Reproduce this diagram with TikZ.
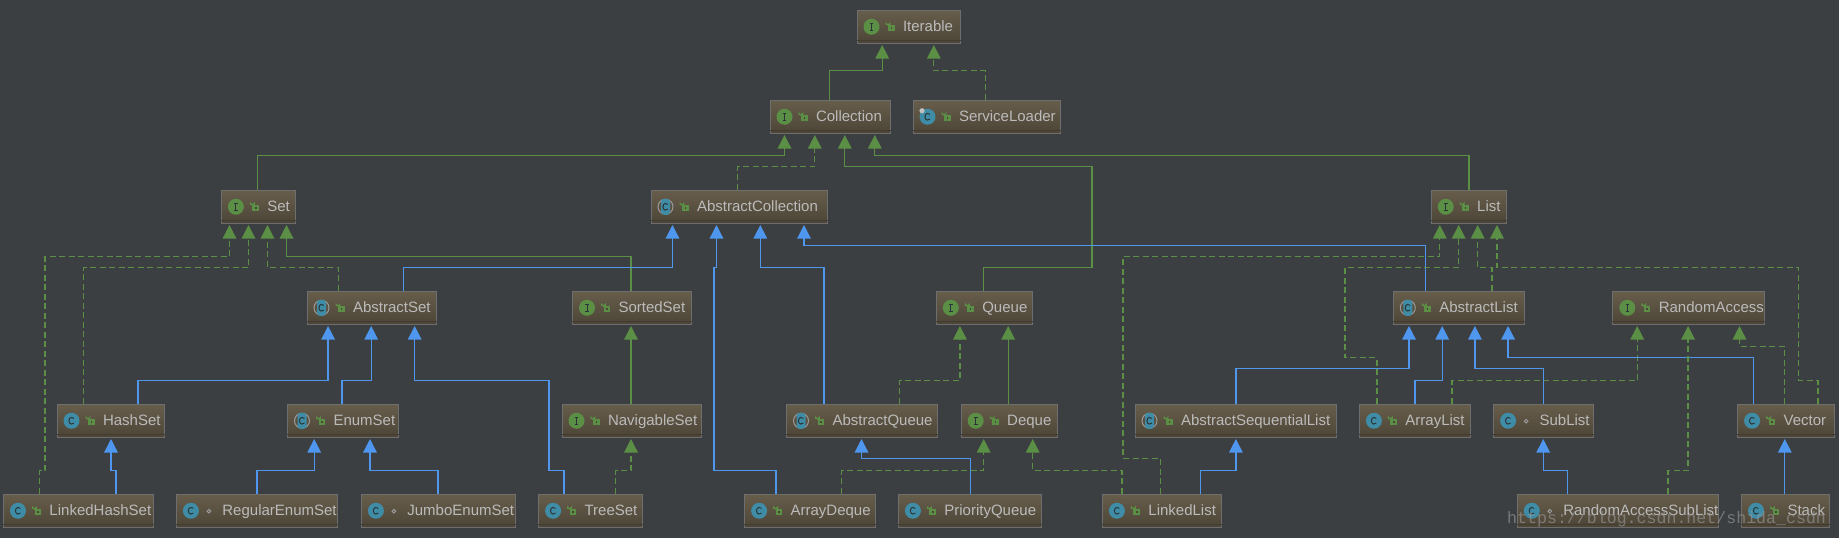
\documentclass[tikz,border=0pt]{standalone}
\usepackage{fontspec}
\setmainfont{Liberation Sans}
\newfontfamily\wmfont{Liberation Mono}
\usetikzlibrary{arrows.meta}
\definecolor{bgc}{HTML}{3C3F41}
\definecolor{boxtop}{HTML}{675D4B}
\definecolor{boxbot}{HTML}{4C4537}
\definecolor{boxedge}{HTML}{6E6E6E}
\definecolor{boxline}{HTML}{423C30}
\definecolor{labelc}{HTML}{BBBBBB}
\definecolor{grn}{HTML}{5B8F45}
\definecolor{blu}{HTML}{4E96EE}
\definecolor{tealc}{HTML}{3F8CA6}
\definecolor{glyphc}{HTML}{2B3538}
\definecolor{grayc}{HTML}{9A9A9A}
\tikzset{
  umlbox/.style={draw=boxedge,line width=1pt,top color=boxtop,bottom color=boxbot,
    inner sep=0pt,minimum height=33.5pt,text=labelc,text height=11.4pt,text depth=2pt,
    font=\fontsize{15}{17}\selectfont},
  linkbase/.style={line width=1.25pt,shorten >=1pt,line join=miter},
  inh/.style={linkbase,draw=blu,-{Triangle[length=13.5pt,width=13.5pt,fill=blu]}},
  ext/.style={linkbase,draw=grn,-{Triangle[length=13.5pt,width=13.5pt,fill=grn]}},
  imp/.style={linkbase,draw=grn,dash pattern=on 6pt off 3.5pt,-{Triangle[length=13.5pt,width=13.5pt,fill=grn]}},
  watermark/.style={anchor=base west,inner sep=0pt,text=grayc,text opacity=.62,
    font=\wmfont\fontsize{16.6}{18}\selectfont}
}
% icons, drawn from the west anchor of the box
\newcommand\iconI{%
  \fill[grn] (15,0) circle (8);
  \draw[glyphc,line width=1pt] (13.2,-3.6) -- (16.8,-3.6) (15,-3.6) -- (15,3.6) (13.2,3.6) -- (16.8,3.6);}
\newcommand\glyphC{%
  \draw[glyphc,line width=1pt] (17.4,-2.4) .. controls (16.4,-4) and (12.6,-4) .. (12.4,0) .. controls (12.6,4) and (16.4,4) .. (17.4,2.4);}
\newcommand\iconC{\fill[tealc] (15,0) circle (8); \glyphC}
\newcommand\iconA{%
  \draw[grayc,line width=1pt] (15,0) circle (7.5);
  \fill[tealc,rounded corners=3pt] (10.5,-8) rectangle (19.5,8); \glyphC}
\newcommand\iconS{\iconC \fill[grayc!60!white] (9.5,-6) circle (2.6);}
\newcommand\visP{%
  \fill[grn] (31.5,-1.8) rectangle (38,4.4);
  \fill[boxbot] (34,0.6) rectangle (35.6,2.2);
  \draw[grn,line width=1.1pt] (29.6,-1.8) -- (29.6,-3.6) arc[start angle=180,end angle=0,radius=1.9] -- (33.4,-1.8);}
\newcommand\visL{\draw[grayc,line width=1pt] (33,0.4) circle (1.8);}
% name, left, right, top, icon, visibility, label
\newcommand\umlnode[7]{%
  \pgfmathsetlengthmacro\umlW{#3-#2}%
  \expandafter\gdef\csname xl@#1\endcsname{#2}%
  \node[umlbox] (#1) at ({(#2+#3)/2},{#4+16.75})
    {\makebox[\umlW][l]{\hspace*{46pt}#7}};
  \draw[boxline,line width=.8pt] ([yshift=3.4pt]#1.south west) -- ([yshift=3.4pt]#1.south east);
  \begin{scope}[shift={(#1.west)}]#5#6\end{scope}}
% style, source, source x, path between, target, target x
\newcommand\umllink[6]{%
  \draw[#1] ([xshift={(#3-\csname xl@#2\endcsname)*1pt}]#2.north west) #4
            ([xshift={(#6-\csname xl@#5\endcsname)*1pt}]#5.south west);}
\begin{document}
\begin{tikzpicture}[x=1pt,y=-1pt]
\useasboundingbox (0,0) rectangle (1839,538);
\fill[bgc] (0,0) rectangle (1839,538);
\umlnode{Iterable}{857}{960}{10}{\iconI}{\visP}{Iterable}
\umlnode{Collection}{770}{890}{100}{\iconI}{\visP}{Collection}
\umlnode{ServiceLoader}{913}{1060}{100}{\iconS}{\visP}{ServiceLoader}
\umlnode{Set}{221.4}{295.8}{190}{\iconI}{\visP}{Set}
\umlnode{AbstractCollection}{651}{827}{190}{\iconA}{\visP}{AbstractCollection}
\umlnode{List}{1431.2}{1506.6}{190}{\iconI}{\visP}{List}
\umlnode{AbstractSet}{307}{436.5}{291}{\iconA}{\visP}{AbstractSet}
\umlnode{SortedSet}{572.5}{691.6}{291}{\iconI}{\visP}{SortedSet}
\umlnode{Queue}{936.3}{1032.4}{291}{\iconI}{\visP}{Queue}
\umlnode{AbstractList}{1393.3}{1524.8}{291}{\iconA}{\visP}{AbstractList}
\umlnode{RandomAccess}{1612.8}{1764.8}{291}{\iconI}{\visP}{RandomAccess}
\umlnode{HashSet}{57}{164.5}{404}{\iconC}{\visP}{HashSet}
\umlnode{EnumSet}{287.5}{398}{404}{\iconA}{\visP}{EnumSet}
\umlnode{NavigableSet}{562}{701.5}{404}{\iconI}{\visP}{NavigableSet}
\umlnode{AbstractQueue}{786.5}{937.5}{404}{\iconA}{\visP}{AbstractQueue}
\umlnode{Deque}{961.2}{1057}{404}{\iconI}{\visP}{Deque}
\umlnode{AbstractSequentialList}{1135}{1336.5}{404}{\iconA}{\visP}{AbstractSequentialList}
\umlnode{ArrayList}{1359.4}{1470.7}{404}{\iconC}{\visP}{ArrayList}
\umlnode{SubList}{1493.6}{1593.5}{404}{\iconC}{\visL}{SubList}
\umlnode{Vector}{1737.6}{1834.7}{404}{\iconC}{\visP}{Vector}
\umlnode{LinkedHashSet}{3.5}{153.4}{494}{\iconC}{\visP}{LinkedHashSet}
\umlnode{RegularEnumSet}{176.4}{337.7}{494}{\iconC}{\visL}{RegularEnumSet}
\umlnode{JumboEnumSet}{361.4}{515.6}{494}{\iconC}{\visL}{JumboEnumSet}
\umlnode{TreeSet}{538.6}{642.5}{494}{\iconC}{\visP}{TreeSet}
\umlnode{ArrayDeque}{744.6}{875.4}{494}{\iconC}{\visP}{ArrayDeque}
\umlnode{PriorityQueue}{898.4}{1041.5}{494}{\iconC}{\visP}{PriorityQueue}
\umlnode{LinkedList}{1102.4}{1221.4}{494}{\iconC}{\visP}{LinkedList}
\umlnode{RandomAccessSubList}{1517.3}{1718.6}{494}{\iconC}{\visL}{RandomAccessSubList}
\umlnode{Stack}{1741.5}{1829.6}{494}{\iconC}{\visP}{Stack}

\umllink{ext}{Collection}{830.3}{-- ++(0,-29) -|}{Iterable}{882.7}
\umllink{imp}{ServiceLoader}{986.3}{-- ++(0,-29) -|}{Iterable}{934.3}
\umllink{ext}{Set}{258}{-- ++(0,-34) -|}{Collection}{785}
\umllink{imp}{AbstractCollection}{738.3}{-- ++(0,-23) -|}{Collection}{815.3}
\umllink{ext}{Queue}{984.2}{-- ++(0,-23) -- ++(108.3,0) -- ++(0,-101) -|}{Collection}{845.3}
\umllink{ext}{List}{1469.5}{-- ++(0,-34) -|}{Collection}{875.3}
\umllink{imp}{LinkedHashSet}{40}{-- ++(0,-23) -- ++(5.5,0) -- ++(0,-214) -|}{Set}{230}
\umllink{imp}{HashSet}{84}{-- ++(0,-136) -|}{Set}{249}
\umllink{imp}{AbstractSet}{339}{-- ++(0,-23) -|}{Set}{268}
\umllink{ext}{SortedSet}{631.5}{-- ++(0,-34) -|}{Set}{287}
\umllink{inh}{AbstractSet}{404}{-- ++(0,-23) -|}{AbstractCollection}{673}
\umllink{inh}{ArrayDeque}{776.6}{-- ++(0,-23) -- ++(-62.1,0) -- ++(0,-203) -|}{AbstractCollection}{717}
\umllink{inh}{AbstractQueue}{824.4}{-- ++(0,-136) -|}{AbstractCollection}{760.8}
\umllink{inh}{AbstractList}{1426}{-- ++(0,-44.7) -|}{AbstractCollection}{804.5}
\umllink{inh}{HashSet}{138.4}{-- ++(0,-23) -|}{AbstractSet}{328.6}
\umllink{inh}{EnumSet}{342.4}{-- ++(0,-23) -|}{AbstractSet}{371.7}
\umllink{inh}{TreeSet}{564.6}{-- ++(0,-23) -- ++(-15,0) -- ++(0,-90) -|}{AbstractSet}{415.2}
\umllink{inh}{LinkedHashSet}{116.6}{-- ++(0,-23) -|}{HashSet}{111.5}
\umllink{inh}{RegularEnumSet}{257.4}{-- ++(0,-23) -|}{EnumSet}{314.7}
\umllink{inh}{JumboEnumSet}{438.5}{-- ++(0,-23) -|}{EnumSet}{370.5}
\umllink{imp}{TreeSet}{616}{-- ++(0,-23) -|}{NavigableSet}{631.5}
\umllink{ext}{NavigableSet}{631.5}{--}{SortedSet}{631.5}
\umllink{imp}{AbstractQueue}{900.3}{-- ++(0,-23) -|}{Queue}{960.4}
\umllink{ext}{Deque}{1008.7}{--}{Queue}{1008.7}
\umllink{inh}{PriorityQueue}{970.7}{-- ++(0,-35) -|}{AbstractQueue}{862}
\umllink{imp}{ArrayDeque}{842.2}{-- ++(0,-23) -|}{Deque}{984.2}
\umllink{imp}{LinkedList}{1122.6}{-- ++(0,-23) -|}{Deque}{1033.2}
\umllink{imp}{LinkedList}{1161.3}{-- ++(0,-35) -- ++(-37.9,0) -- ++(0,-201.7) -|}{List}{1440.3}
\umllink{inh}{LinkedList}{1201.3}{-- ++(0,-23) -|}{AbstractSequentialList}{1236.4}
\umllink{inh}{AbstractSequentialList}{1236.4}{-- ++(0,-34.7) -|}{AbstractList}{1409.5}
\umllink{imp}{ArrayList}{1377.5}{-- ++(0,-45.7) -- ++(-32,0) -- ++(0,-90.3) -|}{List}{1459.2}
\umllink{imp}{AbstractList}{1492.4}{-- ++(0,-23) -|}{List}{1478.2}
\umllink{imp}{Vector}{1818.5}{-- ++(0,-23) -- ++(-19.7,0) -- ++(0,-113) -|}{List}{1497.5}
\umllink{inh}{ArrayList}{1415.4}{-- ++(0,-23) -|}{AbstractList}{1442.7}
\umllink{imp}{ArrayList}{1452.5}{-- ++(0,-23) -|}{RandomAccess}{1637.7}
\umllink{inh}{SubList}{1543.7}{-- ++(0,-34.7) -|}{AbstractList}{1475.4}
\umllink{inh}{Vector}{1753.7}{-- ++(0,-45.7) -|}{AbstractList}{1508.6}
\umllink{imp}{Vector}{1785.3}{-- ++(0,-56.7) -|}{RandomAccess}{1740}
\umllink{inh}{RandomAccessSubList}{1567.8}{-- ++(0,-23) -|}{SubList}{1543.7}
\umllink{imp}{RandomAccessSubList}{1668.5}{-- ++(0,-23) -|}{RandomAccess}{1688.6}
\umllink{inh}{Stack}{1785.3}{--}{Vector}{1785.3}

\node[watermark] (wm) at (1507,523) {https://blog.csdn.net/shida\_csdn};
\end{tikzpicture}
\end{document}
